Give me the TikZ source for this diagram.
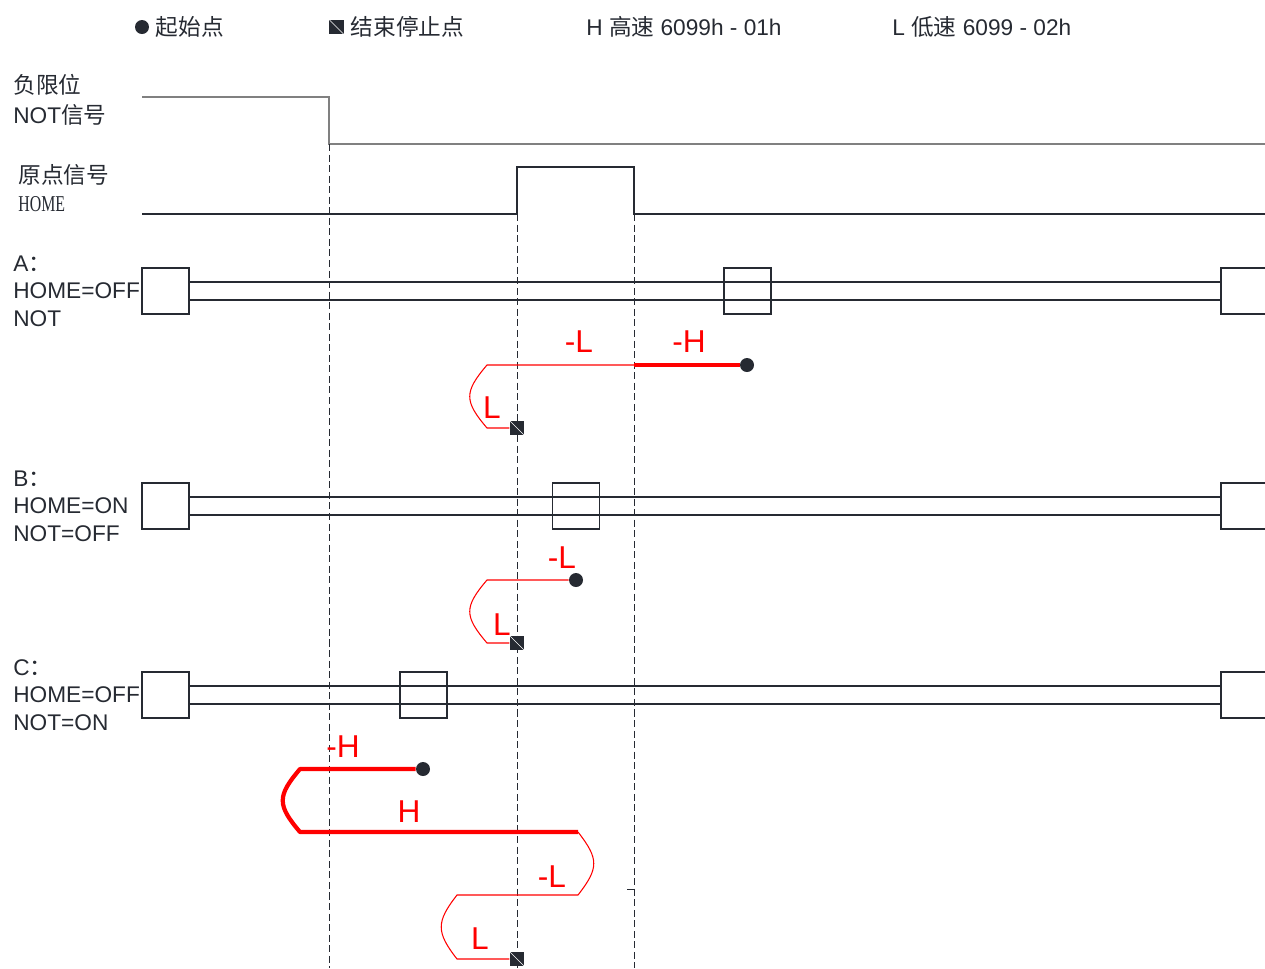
\documentclass[tikz,border=0pt]{standalone}
\usepackage{fontspec}
\setmainfont{Liberation Sans}
\newfontfamily\cjk{Noto Sans CJK SC}
\newfontfamily\homefont{Liberation Serif}
\usepackage{tikz}
\usetikzlibrary{positioning, calc}
\definecolor{inkdark}{RGB}{38,42,50}
\tikzset{
	lbltext/.style={font=\fontsize{12.9}{15.6}\selectfont\color{inkdark}, align=left, anchor=west, inner sep=0pt}
}
\tikzset{
	redtext/.style={font=\fontsize{18}{20}\selectfont\color{red}, inner sep=0pt}
}
\newcommand{\cn}[1]{{\cjk #1}}

\begin{document}
\begin{tikzpicture}[x=0.02cm, y=-0.02cm,
    sigbox/.style={draw=inkdark, line width=0.6pt, minimum width=0.94cm, minimum height=0.92cm, inner sep=0pt},
    startdot/.style={circle, fill=inkdark, minimum size=0.28cm, inner sep=0pt},
    stopsq/.style={fill=inkdark, minimum size=0.29cm, inner sep=0pt,
      path picture={\draw[white, line width=0.3pt] (path picture bounding box.north west) -- (path picture bounding box.south east);}},
    guide/.style={inkdark, line width=0.5pt, dash pattern=on 4pt off 2pt},
    track/.style={inkdark, line width=0.6pt},
    slow/.style={red, line width=0.6pt},
    fast/.style={red, line width=2.4pt, line join=round}]
      \useasboundingbox (0,0) rectangle (1265,968);
      \clip (0,0) rectangle (1265,968);

      % legend
      \node[startdot] (legstart) at (142,27) {};
      \node[lbltext, right=0.12cm of legstart] (legstarttxt) {\cn{起始点}};
      \node[stopsq] (legstop) at (336.5,27) {};
      \node[lbltext, right=0.13cm of legstop] (legstoptxt) {\cn{结束停止点}};
      \node[lbltext] (leghigh) at (586,27) {H \cn{高速} 6099h - 01h};
      \node[lbltext] (leglow) at (892,27) {L \cn{低速} 6099 - 02h};

      % input signals
      \node[lbltext, font=\fontsize{12.9}{17}\selectfont\color{inkdark}] (notlbl) at (13,100) {\cn{负限位}\\NOT\cn{信号}};
      \node[lbltext, font=\fontsize{12.9}{15.9}\selectfont\color{inkdark}] (homelbl) at (18,188) {\cn{原点信号}\\\scalebox{0.7}[1]{\homefont HOME}};
      \coordinate (notfall) at (329,144);
      \coordinate (homeup) at (517,214);
      \coordinate (homedown) at (634,214);
      \draw[gray, line width=1pt] (142,97) -| (notfall) -- (1265,144);
      \draw[track] (142,214) -- (homeup) |- (634,167) -- (homedown) -- (1265,214);
      \draw[guide] (notfall) -- (329,968);
      \draw[guide] (homeup) -- (517,968);
      \draw[guide] (homedown) -- (634,968);
      \draw[guide, dash pattern=] (627,889) -- (634,889);

      % the three cases
      \foreach \r/\y/\mx in {A/291/747.5, B/506/576, C/695/423.5} {
        \node[sigbox] (\r0) at (165.5,\y) {};
        \node[sigbox] (\r1) at (\mx,\y) {};
        \node[sigbox] (\r2) at (1244.5,\y) {};
        \draw[track] ([yshift=0.18cm]\r0.east) -- ([yshift=0.18cm]\r2.west);
        \draw[track] ([yshift=-0.18cm]\r0.east) -- ([yshift=-0.18cm]\r2.west);
      }
      \node[lbltext] (Albl) at (13,291) {A\cn{：}\\HOME=OFF\\NOT};
      \node[lbltext] (Blbl) at (13,506) {B\cn{：}\\HOME=ON\\NOT=OFF};
      \node[lbltext] (Clbl) at (13,695) {C\cn{：}\\HOME=OFF\\NOT=ON};

      % A: start right of home, -H then -L, back on L
      \node[startdot] (Astart) at (747,365) {};
      \node[stopsq] (Aend) at (517,428) {};
      \coordinate (Aturn) at (634,365);
      \draw[fast] (Astart) -- (Aturn);
      \draw[slow] (Aturn) -- (487,365) .. controls (464,392) and (464,401) .. (487,428) -- (Aend);
      \node[redtext] at (579,342) {-L};
      \node[redtext] at (689,342) {-H};
      \node[redtext] at (492,408) {L};

      % B: start on home
      \node[startdot] (Bstart) at (576,580) {};
      \node[stopsq] (Bend) at (517,643) {};
      \draw[slow] (Bstart) -- (487,580) .. controls (464,607) and (464,616) .. (487,643) -- (Bend);
      \node[redtext] at (562,558) {-L};
      \node[redtext] at (502,625) {L};

      % C: start left of home, reverse at NOT
      \node[startdot] (Cstart) at (423,769) {};
      \node[stopsq] (Cend) at (517,959) {};
      \coordinate (Cturn) at (578,832);
      \draw[fast] (Cstart) -- (300,769) .. controls (277,796) and (277,805) .. (300,832) -- (Cturn);
      \draw[slow] (Cturn) .. controls (599,859) and (599,868) .. (578,895) -- (457,895)
        .. controls (436,922) and (436,932) .. (457,959) -- (Cend);
      \node[redtext] at (343,747) {-H};
      \node[redtext] at (409,812) {H};
      \node[redtext] at (552,877) {-L};
      \node[redtext] at (480,939) {L};
    \end{tikzpicture}
\end{document}
